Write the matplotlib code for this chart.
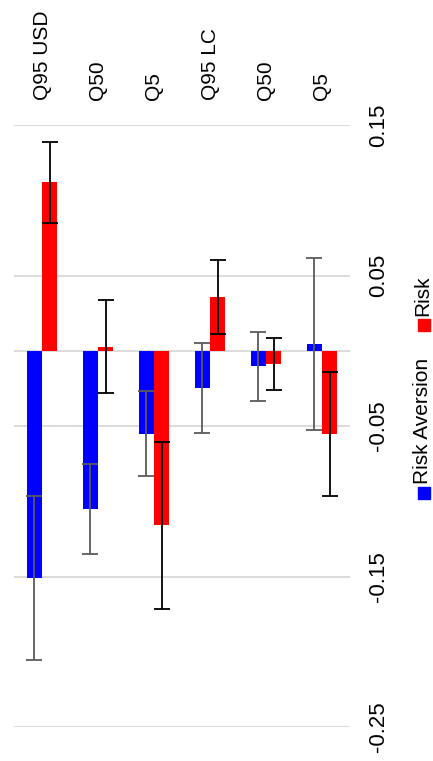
import numpy as np
import matplotlib.pyplot as plt
from matplotlib.patches import Rectangle

plt.rcParams['font.family'] = ['Liberation Sans', 'DejaVu Sans']

# Data
categories = ['Q95 USD', 'Q50', 'Q5', 'Q95 LC', 'Q50', 'Q5']
risk_aversion = [-0.151, -0.105, -0.055, -0.0246, -0.0102, 0.0044]
risk_aversion_err = [0.0545, 0.0298, 0.0283, 0.0298, 0.0229, 0.057]
risk = [0.1118, 0.0027, -0.116, 0.0357, -0.0088, -0.0553]
risk_err = [0.027, 0.031, 0.0557, 0.0243, 0.017, 0.041]
y_ticks = [-0.25, -0.15, -0.05, 0.05, 0.15]

fig = plt.figure(figsize=(4.33, 7.61), dpi=100)
ax = fig.add_axes([14 / 433, 34 / 761, 336 / 433, 602 / 761])

x = np.arange(len(categories))
w = 0.27
grid_c = '#d9d9d9'

for yv in y_ticks + [0]:
    ax.axhline(yv, color=grid_c, lw=1.3, zorder=0)

ax.bar(x - w / 2, risk_aversion, w, color='#0000ff', zorder=2,
       yerr=risk_aversion_err, ecolor='#5a5a5a', capsize=6,
       error_kw=dict(elinewidth=1.3, capthick=1.3))
ax.bar(x + w / 2, risk, w, color='#ff0000', zorder=2,
       yerr=risk_err, ecolor='black', capsize=6,
       error_kw=dict(elinewidth=1.3, capthick=1.3))

ax.set_xlim(-0.5, len(categories) - 0.5)
ax.set_ylim(-0.25, 0.15)

ax.xaxis.tick_top()
ax.set_xticks(x)
ax.set_xticklabels(categories, rotation=90, fontsize=15, va='bottom')
ax.tick_params(axis='x', length=0, pad=18)

ax.yaxis.tick_right()
ax.set_yticks(y_ticks)
ax.set_yticklabels([f'{v:.2f}' for v in y_ticks], rotation=90, fontsize=16,
                   va='center', ha='left')
ax.tick_params(axis='y', length=0, pad=13)

for s in ax.spines.values():
    s.set_visible(False)

# rotated legend on the right
lx = 423 / 433
fig.patches.append(Rectangle((418 / 433, 1 - 499 / 761), 12 / 433, 12 / 761,
                             transform=fig.transFigure, color='#0000ff'))
fig.text(lx, 1 - 484 / 761, 'Risk Aversion', rotation=90, fontsize=15,
         ha='center', va='bottom')
fig.patches.append(Rectangle((418 / 433, 1 - 331 / 761), 12 / 433, 12 / 761,
                             transform=fig.transFigure, color='#ff0000'))
fig.text(lx, 1 - 316 / 761, 'Risk', rotation=90, fontsize=15,
         ha='center', va='bottom')

fig.savefig('out.png', dpi=100)
